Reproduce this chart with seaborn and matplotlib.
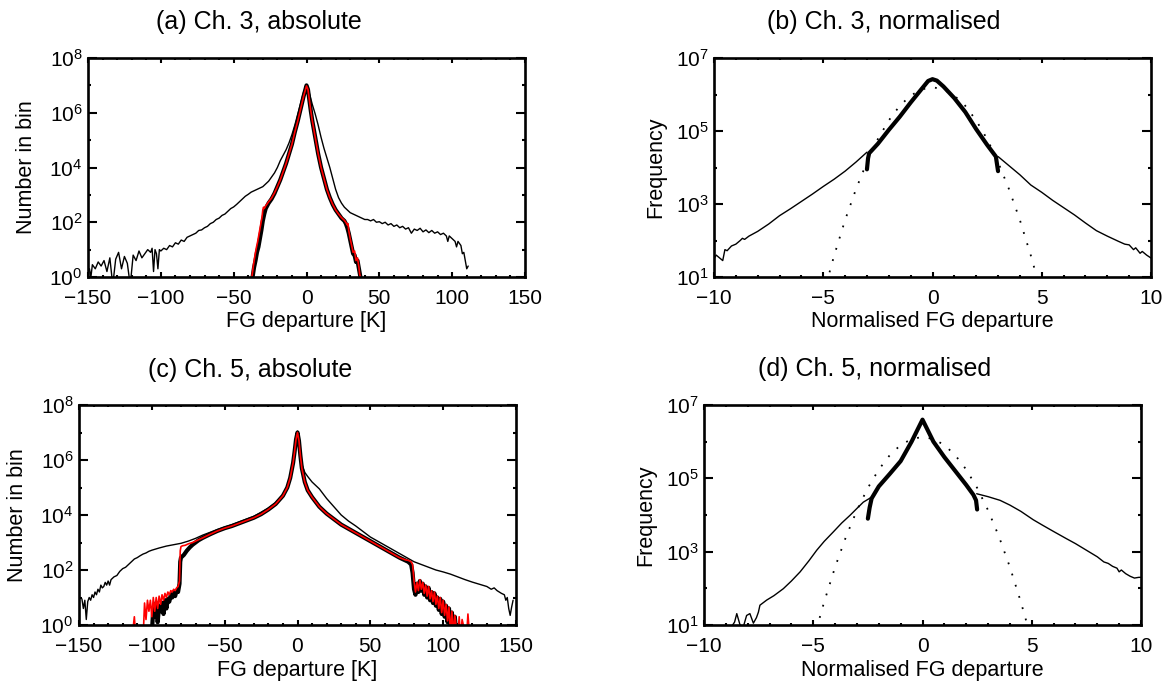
import numpy as np
import pandas as pd
import matplotlib
matplotlib.use("Agg")
import matplotlib.pyplot as plt
import matplotlib.ticker as mticker
import seaborn as sns

# ---------------- data (log10 of number in bin) ----------------
# (a) Ch. 3 absolute
a_all_x = [-149, -148, -147, -145, -143, -141, -139, -137, -135, -133, -131, -129, -127, -125, -123, -121,
           -119, -117, -115, -113, -111, -109, -107, -106, -105, -104, -103, -102, -101, -100, -98, -96,
           -94, -92, -90, -88, -86, -84, -82, -80, -78, -76, -74, -72, -70, -68, -66, -64, -62, -60,
           -58, -56, -54, -52, -50, -48, -46, -44, -42, -40, -38, -36, -34, -32, -30, -26, -22, -20,
           -18, -16, -14, -12, -10, -8, -6, -4, -2, 0, 2, 4, 6, 8, 10, 12, 14, 16, 18, 20, 22, 24, 26,
           28, 30, 32, 34, 36, 38, 40, 42, 44, 46, 48, 50, 52, 54, 56, 58, 60, 62, 64, 66, 68, 70, 72,
           74, 76, 78, 80, 82, 84, 86, 88, 90, 92, 94, 96, 97, 98, 100, 102, 103, 104, 106, 107, 108,
           109, 110, 111]
a_all_log = [0.3, 0.0, 0.45, 0.3, 0.55, 0.4, 0.6, 0.2, 0.7, -0.3, 0.65, 0.9, 0.3, 0.75, 0.5, -0.3,
             0.8, 0.6, 0.95, 0.7, 0.85, 1.0, 0.9, 1.05, 0.2, 1.0, 0.85, 0.3, 1.0, 0.95, 1.05, 1.0,
             1.15, 1.1, 1.25, 1.2, 1.35, 1.3, 1.45, 1.5, 1.55, 1.6, 1.7, 1.72, 1.8, 1.85, 1.95, 2.0, 2.1, 2.15,
             2.25, 2.3, 2.4, 2.5, 2.56, 2.65, 2.75, 2.85, 2.95, 3.02, 3.1, 3.15, 3.2, 3.25, 3.3, 3.5, 3.8, 4.0,
             4.25, 4.45, 4.65, 4.9, 5.2, 5.55, 5.95, 6.35, 6.75, 7.02, 6.7, 6.3, 5.95, 5.55, 5.1, 4.7, 4.35, 4.0, 3.6, 3.2, 2.9, 2.7, 2.55,
             2.45, 2.35, 2.3, 2.25, 2.2, 2.15, 2.1, 2.1, 2.05, 2.1, 2.0, 2.02, 1.95, 2.0, 1.9, 1.95, 1.85, 1.9, 1.8, 1.85, 1.75, 1.8, 1.6,
             1.75, 1.7, 1.78, 1.65, 1.72, 1.62, 1.7, 1.6, 1.65, 1.55, 1.6, 1.5, 1.3, 1.5, 1.4, 1.3, 1.1, 1.3, 1.15, 0.85, 0.9,
             0.6, 0.3, 0.4]
a_qc_x = [-37, -36, -35, -34, -33, -32, -31, -30, -29, -28, -27, -26, -24, -22, -20, -18, -16, -14, -12, -10,
          -8, -6, -4, -2, 0, 1, 2, 3, 4, 5, 6, 7, 8, 9, 10, 12, 14, 16, 18, 20, 22, 24, 26, 27, 28, 29, 30,
          31, 32, 33, 34, 35, 36, 37]
a_qc_log = [0.0, 0.35, 0.6, 0.9, 1.1, 1.4, 1.7, 2.05, 2.3, 2.5, 2.6, 2.7, 2.85, 3.05, 3.3, 3.55, 3.85, 4.15, 4.5, 4.85,
            5.3, 5.7, 6.15, 6.6, 7.0, 6.85, 6.45, 6.05, 5.7, 5.4, 5.1, 4.8, 4.5, 4.25, 4.0, 3.6, 3.2, 2.9, 2.65, 2.45, 2.3, 2.15, 2.05, 1.95, 1.8, 1.6, 1.35,
            1.1, 0.85, 0.8, 0.55, 0.6, 0.3, 0.0]
a_red_x = [-37.5, -36.5, -35.5, -34.5, -33.5, -32.5, -31.5, -30.5, -30, -29.5, -29, -28, -26, -24, -22, -20, -18, -16, -14, -12, -10,
           -8, -6, -4, -2, 0, 1, 2, 3, 4, 5, 6, 7, 8, 9, 10, 12, 14, 16, 18, 20, 22, 24, 26, 27, 28, 28.5, 29, 30,
           31, 32, 33, 34, 35, 36, 36.5, 37]
a_red_log = [0.0, 0.4, 0.75, 1.05, 1.3, 1.6, 1.9, 2.2, 2.45, 2.55, 2.5, 2.6, 2.75, 2.88, 3.07, 3.3, 3.55, 3.85, 4.15, 4.5, 4.85,
             5.3, 5.7, 6.15, 6.6, 6.98, 6.85, 6.45, 6.05, 5.7, 5.4, 5.1, 4.8, 4.5, 4.25, 4.0, 3.6, 3.2, 2.9, 2.65, 2.45, 2.3, 2.17, 2.07, 2.0, 1.9, 1.95, 1.7, 1.4,
             1.15, 0.9, 0.95, 0.6, 0.7, 0.35, 0.1, 0.0]

# (c) Ch. 5 absolute
c_all_x = [-148, -147, -146, -145, -144, -143, -142, -141, -140, -139, -138, -137, -136, -135, -134, -133, -132, -131,
           -130, -129, -128, -126, -124, -122, -120, -118, -116, -114, -112, -110, -108, -106, -104, -102, -100,
           -95, -90, -85, -80, -75, -70, -65, -60, -55, -50, -45, -40, -35, -30, -25, -20, -15, -10, -7, -5, -3, -2,
           -1, 0, 1, 2, 3, 5, 7, 10, 15, 20, 25, 30, 35, 40, 45, 50, 55, 60, 65, 70, 75, 80, 85, 90, 95, 100,
           105, 110, 115, 120, 125, 130, 133, 135, 137, 140, 142, 143, 144, 145, 146, 147, 148]
c_all_log = [0.95, 0.6, 0.9, 0.2, 0.85, 1.0, 0.9, 1.1, 1.0, 1.2, 1.1, 1.3, 1.2, 1.45, 1.35, 1.4, 1.55, 1.45,
             1.6, 1.45, 1.65, 1.75, 1.8, 1.95, 2.05, 2.1, 2.2, 2.3, 2.4, 2.45, 2.52, 2.58, 2.62, 2.68, 2.72,
             2.8, 2.87, 2.92, 2.97, 3.05, 3.15, 3.27, 3.37, 3.47, 3.56, 3.65, 3.75, 3.85, 3.95, 4.1, 4.25, 4.45, 4.75, 5.05, 5.4, 5.9, 6.3,
             6.75, 7.05, 6.7, 6.2, 5.85, 5.55, 5.4, 5.2, 4.95, 4.6, 4.3, 4.0, 3.78, 3.6, 3.4, 3.2, 3.05, 2.9, 2.75, 2.6, 2.45, 2.3, 2.2, 2.1, 2.0, 1.93,
             1.85, 1.75, 1.65, 1.56, 1.48, 1.4, 1.3, 1.35, 1.25, 1.15, 1.1, 0.9, 1.0, 0.6, 0.35, 0.65, 0.9]
c_qc_x = [-100, -99, -98, -97, -96, -95, -94, -93, -92, -91, -90, -89, -88, -87, -86, -85, -84, -83, -82, -81,
          -80.5, -80, -78, -76, -74, -72, -70, -68, -65, -60, -55, -50, -45, -40, -35, -30, -25, -20, -15, -10,
          -7, -5, -3, -2, -1, 0, 1, 2, 3, 5, 7, 10, 15, 20, 25, 30, 35, 40, 45, 50, 55, 60, 65, 70, 74, 76, 78,
          79, 80, 81, 82, 83, 84, 85, 86, 87, 88, 89, 90, 91, 92, 93, 94, 95, 96, 97, 98, 99, 100, 101, 102,
          103, 104, 105, 106, 107, 108, 109]
c_qc_log = [-0.3, 0.6, 0.3, 0.8, 0.1, 0.7, 0.5, 0.8, 0.4, 0.9, 0.6, 0.95, 0.85, 1.1, 1.0, 1.2, 1.05, 1.25, 1.2, 1.5,
            2.3, 2.45, 2.55, 2.7, 2.82, 2.92, 3.0, 3.08, 3.17, 3.3, 3.42, 3.52, 3.6, 3.7, 3.8, 3.9, 4.03, 4.2, 4.4, 4.7,
            5.0, 5.35, 5.9, 6.3, 6.75, 7.0, 6.7, 6.15, 5.7, 5.2, 4.9, 4.65, 4.3, 4.05, 3.85, 3.65, 3.5, 3.35, 3.2, 3.05, 2.9, 2.75, 2.6, 2.45, 2.35, 2.3, 2.2,
            1.9, 1.3, 1.1, 1.5, 1.2, 1.6, 1.25, 1.5, 1.1, 1.4, 1.0, 1.35, 0.9, 1.2, 0.8, 1.15, 0.7, 1.0, 0.55, 0.95, 0.4, 0.85, 0.3, 0.7,
            0.1, 0.6, -0.3, 0.45, -0.3, 0.3, -0.3]
c_red_x = [-113, -112, -111, -106, -105, -104, -103, -102, -101, -100, -99, -98, -97, -96, -95, -94, -93, -92, -91,
           -90, -89, -88, -87, -86, -85, -84, -83, -82, -81, -80.5, -80, -79, -77, -75, -72, -70, -68, -65, -60,
           -55, -50, -45, -40, -35, -30, -25, -20, -15, -10, -7, -5, -3, -2, -1, 0, 1, 2, 3, 5, 7, 10, 15, 20,
           25, 30, 35, 40, 45, 50, 55, 60, 65, 70, 74, 76, 78, 79, 80, 81, 82, 83, 84, 85, 86, 87, 88, 89, 90,
           91, 92, 93, 94, 95, 96, 97, 98, 99, 100, 101, 102, 103, 104, 105, 106, 107, 108, 110, 111, 112, 113,
           116, 117, 118]
c_red_log = [-0.2, 0.3, -0.5, -0.5, 0.8, 0.2, 0.9, 0.5, 0.9, 0.3, 1.0, 0.5, 1.0, 0.6, 1.05, 0.75, 1.1, 0.9, 1.15,
             1.0, 1.2, 1.1, 1.25, 1.2, 1.3, 1.25, 1.35, 1.4, 1.6, 2.7, 2.85, 2.88, 2.9, 2.95, 3.0, 3.05, 3.1, 3.17, 3.3,
             3.42, 3.52, 3.6, 3.7, 3.8, 3.9, 4.03, 4.2, 4.4, 4.7, 5.0, 5.35, 5.9, 6.3, 6.75, 7.0, 6.7, 6.15, 5.7, 5.2, 4.9, 4.65, 4.3, 4.05,
             3.85, 3.65, 3.5, 3.35, 3.2, 3.05, 2.9, 2.75, 2.6, 2.45, 2.37, 2.35, 2.3, 2.2, 1.6, 1.2, 1.55, 1.25, 1.65, 1.3, 1.55, 1.15, 1.45, 1.05, 1.4,
             0.95, 1.25, 0.85, 1.2, 0.75, 1.05, 0.6, 1.0, 0.45, 0.9, 0.35, 0.75, 0.15, 0.65, -0.3, 0.5, -0.3, 0.35, -0.5, 0.3, -0.5, 0.2,
             -0.5, 0.4, -0.3]

# (b) Ch. 3 normalised
b_all_x = [-10.0, -9.9, -9.7, -9.6, -9.5, -9.4, -9.2, -9.0, -8.8, -8.7, -8.6, -8.4, -8.0, -7.5, -7.0, -6.5, -6.0,
           -5.5, -5.0, -4.5, -4.0, -3.5, -3.0, None,
           3.0, 3.5, 4.0, 4.5, 5.0, 5.5, 6.0, 6.5, 7.0, 7.5, 8.0, 8.5, 8.8, 9.0, 9.2, 9.3, 9.5, 9.6, 9.8, 10.0]
b_all_log = [1.5, 1.6, 1.5, 1.45, 1.75, 1.72, 1.85, 1.9, 2.0, 2.06, 2.03, 2.12, 2.25, 2.45, 2.68, 2.87, 3.07,
             3.27, 3.48, 3.68, 3.9, 4.15, 4.42, None,
             4.3, 4.05, 3.8, 3.52, 3.32, 3.1, 2.9, 2.7, 2.48, 2.27, 2.12, 1.98, 1.9, 1.88, 1.75, 1.8, 1.65, 1.7, 1.6, 1.52]
b_qc_x = [-3.0, -2.95, -2.9, -2.5, -2.0, -1.5, -1.0, -0.5, -0.2, 0.0, 0.2, 0.5, 1.0, 1.5, 2.0, 2.5, 2.8, 2.9, 2.95, 3.0]
b_qc_log = [3.95, 4.25, 4.39, 4.65, 5.03, 5.39, 5.78, 6.15, 6.37, 6.42, 6.38, 6.22, 5.9, 5.52, 5.05, 4.62, 4.38, 4.3, 4.1, 3.9]
b_gauss_x = [-5.0, -4.5, -4.0, -3.5, -3.0, -2.5, -2.0, -1.5, -1.0, -0.5, 0.0, 0.5, 1.0, 1.5, 2.0, 2.5, 3.0, 3.5, 4.0, 4.5, 5.0]
b_gauss_log = [0.51, 1.59, 2.56, 3.41, 4.15, 4.78, 5.29, 5.69, 5.97, 6.14, 6.2, 6.14, 5.97, 5.69, 5.29, 4.78, 4.15, 3.41, 2.56, 1.59, 0.51]

# (d) Ch. 5 normalised
d_all_x = [-8.8, -8.6, -8.5, -8.35, -8.2, -8.05, -7.9, -7.74, -7.6, -7.51, -7.44, -7.13, -6.8, -6.37, -6.0, -5.6,
           -5.2, -4.84, -4.5, -4.08, -3.7, -3.32, -3.0, -2.71, -2.32, None,
           2.48, 3.0, 3.55, 4.0, 4.5, 5.07, 5.5, 6.0, 6.6, 7.0, 7.5, 8.0, 8.3, 8.5, 8.7, 8.9, 9.0, 9.1, 9.3, 9.5, 9.7, 9.9, 10.0]
d_all_log = [0.9, 1.08, 1.31, 1.0, 0.95, 1.26, 1.31, 1.05, 1.2, 1.35, 1.54, 1.68, 1.8, 1.99, 2.2, 2.45,
             2.75, 3.04, 3.28, 3.54, 3.78, 3.99, 4.18, 4.35, 4.49, None,
             4.58, 4.5, 4.4, 4.27, 4.1, 3.87, 3.72, 3.55, 3.35, 3.22, 3.04, 2.86, 2.72, 2.68, 2.6, 2.55, 2.45, 2.5, 2.4, 2.33, 2.28, 2.3, 2.3]
d_qc_x = [-2.5, -2.42, -2.33, -2.0, -1.5, -1.0, -0.5, -0.25, 0.0, 0.25, 0.5, 1.0, 1.5, 2.0, 2.33, 2.45, 2.5]
d_qc_log = [3.9, 4.2, 4.45, 4.78, 5.12, 5.47, 6.0, 6.3, 6.6, 6.3, 6.0, 5.58, 5.2, 4.82, 4.55, 4.4, 4.15]
d_gauss_x = [-5.0, -4.5, -4.0, -3.5, -3.0, -2.5, -2.0, -1.5, -1.0, -0.5, 0.0, 0.5, 1.0, 1.5, 2.0, 2.5, 3.0, 3.5, 4.0, 4.5, 5.0]
d_gauss_log = [0.58, 1.63, 2.58, 3.41, 4.13, 4.74, 5.24, 5.63, 5.91, 6.07, 6.13, 6.07, 5.91, 5.63, 5.24, 4.74, 4.13, 3.41, 2.58, 1.63, 0.58]

titles = ["(a) Ch. 3, absolute", "(b) Ch. 3, normalised", "(c) Ch. 5, absolute", "(d) Ch. 5, normalised"]
xlabels = ["FG departure [K]", "Normalised FG departure", "FG departure [K]", "Normalised FG departure"]
ylabels = ["Number in bin", "Frequency", "Number in bin", "Frequency"]

# ---------------- style ----------------
sns.set_theme(style="ticks")
plt.rcParams["font.family"] = ["Liberation Sans", "DejaVu Sans"]
plt.rcParams["mathtext.fontset"] = "custom"
plt.rcParams["mathtext.rm"] = "Liberation Sans"
plt.rcParams["mathtext.it"] = "Liberation Sans:italic"
plt.rcParams["mathtext.bf"] = "Liberation Sans:bold"
plt.rcParams["axes.unicode_minus"] = True

W, H = 1170, 684
fig = plt.figure(figsize=(W / 100, H / 100), dpi=100)

def px_axes(l, t, r, b):
    return fig.add_axes([l / W, 1 - b / H, (r - l) / W, (b - t) / H])

ax_a = px_axes(88, 58, 525, 277)
ax_b = px_axes(714, 58, 1151, 277)
ax_c = px_axes(79, 405, 516, 625)
ax_d = px_axes(704, 405, 1141, 625)


def to_vals(xs, logs):
    x = [np.nan if v is None else v for v in xs]
    y = [np.nan if v is None else 10.0 ** v for v in logs]
    return np.array(x, dtype=float), np.array(y, dtype=float)


def draw(ax, xs, logs, color="black", lw=0.9, ls="-"):
    x, y = to_vals(xs, logs)
    # split at gaps so seaborn does not connect across them
    mask = np.isnan(x)
    idx = np.where(mask)[0]
    starts = [0] + list(idx + 1)
    ends = list(idx) + [len(x)]
    for s, e in zip(starts, ends):
        if e - s < 2:
            continue
        df = pd.DataFrame({"x": x[s:e], "y": y[s:e]})
        sns.lineplot(data=df, x="x", y="y", ax=ax, color=color, lw=lw, linestyle=ls,
                     estimator=None, sort=False, legend=False)


draw(ax_a, a_all_x, a_all_log, lw=1.0)
draw(ax_a, a_qc_x, a_qc_log, lw=3.0)
draw(ax_a, a_red_x, a_red_log, color="#ff0000", lw=1.2)

draw(ax_c, c_all_x, c_all_log, lw=1.0)
draw(ax_c, c_qc_x, c_qc_log, lw=3.0)
draw(ax_c, c_red_x, c_red_log, color="#ff0000", lw=1.2)

draw(ax_b, b_all_x, b_all_log, lw=1.0)
draw(ax_b, b_qc_x, b_qc_log, lw=3.0)
draw(ax_b, b_gauss_x, b_gauss_log, lw=1.3, ls=(0, (1, 5.5)))

draw(ax_d, d_all_x, d_all_log, lw=1.0)
draw(ax_d, d_qc_x, d_qc_log, lw=3.0)
draw(ax_d, d_gauss_x, d_gauss_log, lw=1.3, ls=(0, (1, 5.5)))

for i, ax in enumerate([ax_a, ax_b, ax_c, ax_d]):
    ax.set_yscale("log")
    if i in (0, 2):
        ax.set_xlim(-150, 150)
        ax.set_ylim(1, 1e8)
        ax.xaxis.set_major_locator(mticker.MultipleLocator(50))
        ax.xaxis.set_minor_locator(mticker.MultipleLocator(10))
        ax.yaxis.set_major_locator(mticker.FixedLocator([1e0, 1e2, 1e4, 1e6, 1e8]))
        ax.yaxis.set_minor_locator(mticker.FixedLocator([1e1, 1e3, 1e5, 1e7]))
        ylc = -0.14
    else:
        ax.set_xlim(-10, 10)
        ax.set_ylim(10, 1e7)
        ax.xaxis.set_major_locator(mticker.MultipleLocator(5))
        ax.xaxis.set_minor_locator(mticker.MultipleLocator(1))
        ax.yaxis.set_major_locator(mticker.FixedLocator([1e1, 1e3, 1e5, 1e7]))
        ax.yaxis.set_minor_locator(mticker.FixedLocator([1e2, 1e4, 1e6]))
        ylc = -0.133
    ax.yaxis.set_major_formatter(mticker.LogFormatterMathtext())
    ax.yaxis.set_minor_formatter(mticker.NullFormatter())
    for sp in ax.spines.values():
        sp.set_visible(True)
        sp.set_linewidth(1.9)
        sp.set_color("black")
    ax.tick_params(axis="both", which="both", direction="in", top=True, right=True,
                   color="black", width=1.5, labelsize=15, labelcolor="black")
    ax.tick_params(axis="x", which="major", length=3.3, pad=9)
    ax.tick_params(axis="x", which="minor", length=1.7)
    ax.tick_params(axis="y", which="major", length=6.2, pad=4)
    ax.tick_params(axis="y", which="minor", length=2.5)
    ax.set_xlabel(xlabels[i], fontsize=15.5, color="black", va="center")
    ax.set_ylabel(ylabels[i], fontsize=15.5, color="black", va="center")
    ax.xaxis.set_label_coords(0.5, -0.205)
    ax.yaxis.set_label_coords(ylc, 0.5)
    ax.grid(False)
    ax.set_facecolor("white")

title_pos = [(259, 22), (884, 22), (250, 370), (875, 369)]
for t, (x, y) in zip(titles, title_pos):
    fig.text(x / W, 1 - y / H, t, ha="center", va="center", fontsize=18, color="black")

fig.savefig("out.png", dpi=100, facecolor="white")
